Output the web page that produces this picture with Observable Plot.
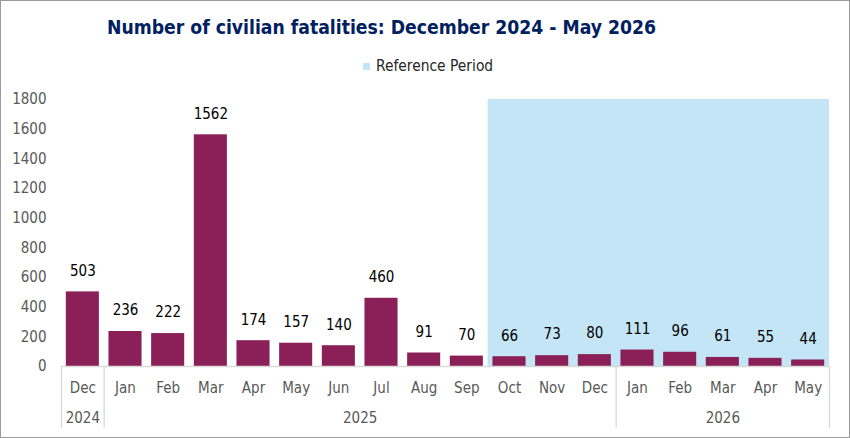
<!DOCTYPE html>
<html>
<head>
<meta charset="utf-8">
<script src="https://cdn.jsdelivr.net/npm/d3@7"></script>
<script src="https://cdn.jsdelivr.net/npm/@observablehq/plot@0.6"></script>
<style>
  body { margin: 0; background: #fff; }
  #chart {
    position: relative; width: 850px; height: 438px; overflow: hidden; background: #fff;
    font-family: "DejaVu Sans Condensed", "DejaVu Sans", sans-serif;
  }
  #border { position: absolute; inset: 0; border: 1px solid #9a9a9a; pointer-events: none; }
  #title {
    position: absolute; left: 107px; top: 17px; white-space: nowrap;
    font-size: 19.2px; line-height: 22px; font-weight: bold; color: #002060;
  }
  #legend {
    position: absolute; left: 363px; top: 57px; white-space: nowrap;
    font-size: 15.4px; line-height: 18px; color: #262626; display: flex; align-items: center;
  }
  #legend .swatch { width: 7px; height: 7px; background: #C3E5F5; margin-right: 6px; }
  #plot { position: absolute; left: 0; top: 80px; }
</style>
</head>
<body>
<div id="chart">
  <div id="title">Number of civilian fatalities: December 2024 - May 2026</div>
  <div id="legend"><span class="swatch"></span><span>Reference Period</span></div>
  <div id="plot"></div>
  <div id="border"></div>
</div>
<script>
// Monthly civilian fatalities, December 2024 to May 2026
const months = ["Dec", "Jan", "Feb", "Mar", "Apr", "May", "Jun", "Jul", "Aug", "Sep", "Oct", "Nov", "Dec",
                "Jan", "Feb", "Mar", "Apr", "May"];
const years = [2024, 2025, 2025, 2025, 2025, 2025, 2025, 2025, 2025, 2025, 2025, 2025, 2025,
               2026, 2026, 2026, 2026, 2026];
const fatalities = [503, 236, 222, 1562, 174, 157, 140, 460, 91, 70, 66, 73, 80, 111, 96, 61, 55, 44];
const yTicks = [0, 200, 400, 600, 800, 1000, 1200, 1400, 1600, 1800];

// Reference period: October 2025 through May 2026
const referenceFrom = {month: "Oct", year: 2025};
const referenceTo = {month: "May", year: 2026};

const data = months.map((month, i) => ({i, month, year: years[i], value: fatalities[i]}));
const indexOf = (p) => data.findIndex((d) => d.month === p.month && d.year === p.year);
const reference = [{start: indexOf(referenceFrom), end: indexOf(referenceTo) + 1}];

// Year groups for the second axis row
const yearGroups = d3.groups(data, (d) => d.year).map(([year, rows]) => ({
  year: String(year), start: rows[0].i, end: rows[rows.length - 1].i + 1
}));
const boundaries = [...new Set(yearGroups.flatMap((g) => [g.start, g.end]))];

const plot = Plot.plot({
  width: 850,
  height: 358,
  marginTop: 19,
  marginBottom: 72,
  marginLeft: 61,
  marginRight: 21,
  style: {fontFamily: "'DejaVu Sans Condensed', 'DejaVu Sans', sans-serif", background: "transparent"},
  x: {type: "linear", domain: [0, data.length], axis: null},
  y: {domain: [0, 1800], axis: null},
  marks: [
    Plot.rectY(reference, {x1: "start", x2: "end", y1: 0, y2: yTicks[yTicks.length - 1], fill: "#C3E5F5"}),
    Plot.rectY(data, {x1: "i", x2: (d) => d.i + 1, y: "value", fill: "#8B1F57", insetLeft: 4.8, insetRight: 4.8}),
    Plot.ruleY([0], {stroke: "#d9d9d9", strokeWidth: 1.3}),
    Plot.ruleX(boundaries, {x: (d) => d, y1: 0, y2: 0, insetBottom: -62, stroke: "#d9d9d9", strokeWidth: 1.3}),
    Plot.axisY(yTicks, {tickSize: 0, tickPadding: 15, fontSize: 15, fill: "#595959", label: null,
      tickFormat: (d) => String(d)}),
    Plot.text(data, {x: (d) => d.i + 0.5, y: "value", text: (d) => String(d.value), dy: -21,
      fontSize: 15, fill: "#000"}),
    Plot.text(data, {x: (d) => d.i + 0.5, y: 0, text: "month", dy: 22, fontSize: 15, fill: "#595959"}),
    Plot.text(yearGroups, {x: (d) => (d.start + d.end) / 2, y: 0, text: "year", dy: 52, fontSize: 15, fill: "#595959"})
  ]
});
document.getElementById("plot").appendChild(plot);
</script>
</body>
</html>
